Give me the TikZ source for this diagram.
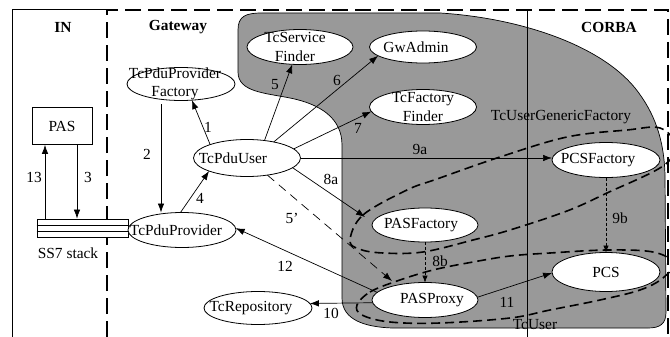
\documentclass[tikz,border=0pt]{standalone}
\usepackage{fontspec}
\setmainfont{Liberation Serif}
\usetikzlibrary{arrows.meta,shapes.geometric}
\definecolor{blobgray}{RGB}{153,153,153}
\begin{document}
\begin{tikzpicture}[x=1pt,y=-1pt,
  every node/.style={font=\fontsize{15.4}{18.5}\selectfont},
  comp/.style={ellipse, draw, fill=white, line width=0.8pt, inner sep=0pt, outer sep=0pt},
  lab/.style={align=center, inner sep=0pt},
  title/.style={font=\fontsize{15.4}{18.5}\selectfont\bfseries, inner sep=0pt},
  num/.style={inner sep=0pt},
  arr/.style={line width=0.7pt, -{Latex[length=9pt,width=6.5pt]}},
  darr/.style={arr, dash pattern=on 9pt off 6pt},
  dotarr/.style={line width=0.6pt, dash pattern=on 3pt off 2pt, -{Latex[length=7pt,width=5.5pt]}},
  frame/.style={line width=1.5pt, dash pattern=on 16pt off 7pt},
  group/.style={line width=1.6pt, dash pattern=on 9pt off 5pt}
]
\useasboundingbox (0,0) rectangle (670,337);

% shaded CORBA-side region
\fill[blobgray, draw=black, line width=0.7pt]
  (238,30) .. controls (238,16) and (246,13) .. (262,13) -- (440,13)
  .. controls (520,18) and (600,45) .. (635,88)
  .. controls (655,113) and (664,140) .. (665,175) -- (666,312)
  .. controls (666,324) and (660,328) .. (648,328) -- (392,328)
  .. controls (365,327) and (342,320) .. (342,298) -- (342,145)
  .. controls (342,118) and (320,104) .. (290,98)
  .. controls (265,93) and (238,92) .. (238,72) -- cycle;

% domain separators
\draw[line width=0.7pt] (527,10) -- (527,337);
\draw[line width=1pt] (12,337) -- (12,10) -- (107,10);
\draw[frame] (107,337) -- (107,10) -- (668,10) -- (668,337);

\node[title] (tIN) at (63,27) {IN};
\node[title] (tGW) at (178,27) {Gateway};
\node[title] (tCORBA) at (609,27) {CORBA};

% IN side
\node[draw, line width=0.8pt, minimum width=60pt, minimum height=37pt, inner sep=0pt] (pas) at (62,126) {PAS};
\node[draw, fill=white, line width=0.8pt, minimum width=91pt, minimum height=18pt, inner sep=0pt] (ss7) at (82.5,228) {};
\draw[line width=0.8pt] ([yshift=3pt]ss7.west) -- ([yshift=3pt]ss7.east);
\draw[line width=0.8pt] ([yshift=-3pt]ss7.west) -- ([yshift=-3pt]ss7.east);
\node[num] (lss7) at (68,253) {SS7 stack};

% components
\node[comp, minimum width=108pt, minimum height=33pt, label={[lab,xshift=-6pt]center:TcPduProvider\\Factory}] (tppf) at (181,84) {};
\node[comp, minimum width=107pt, minimum height=37pt, label={[lab,xshift=-14pt]center:TcPduUser}] (tpu) at (247,158) {};
\node[comp, minimum width=108pt, minimum height=35pt, label={[lab,xshift=-6pt]center:TcPduProvider}] (tpp) at (182,230) {};
\node[comp, minimum width=108pt, minimum height=33pt, label={[lab,xshift=-7pt]center:TcRepository}] (trep) at (258,308) {};
\node[comp, minimum width=106pt, minimum height=35pt, label={[lab,xshift=-5pt]center:TcService\\Finder}] (tsf) at (300,47) {};
\node[comp, minimum width=107pt, minimum height=32pt, label={[lab,xshift=-7pt]center:GwAdmin}] (gwa) at (423,47) {};
\node[comp, minimum width=107pt, minimum height=35pt, label={[lab]center:TcFactory\\Finder}] (tff) at (423,107) {};
\node[comp, minimum width=108pt, minimum height=35pt, label={[lab,xshift=-8pt]center:PCSFactory}] (pcsf) at (606,160) {};
\node[comp, minimum width=106pt, minimum height=34pt, label={[lab,xshift=-4pt]center:PASFactory}] (pasf) at (425,225) {};
\node[comp, minimum width=106pt, minimum height=35pt, label={[lab,xshift=7pt]center:PASProxy}] (pasp) at (425,300) {};
\node[comp, minimum width=108pt, minimum height=39pt, label={[lab]center:PCS}] (pcs) at (606,272) {};

% groupings
\draw[group] plot[smooth cycle, tension=0.6] coordinates {(350,240) (363,215) (407,190) (437,179) (500,157) (567,137) (627,130) (660,128) (675,145) (663,166) (607,193) (567,211) (510,230) (473,240) (423,252) (383,253) (359,249)};
\draw[group] plot[smooth cycle, tension=0.6] coordinates {(357,305) (370,292) (397,281) (433,270) (473,262) (510,256) (550,253) (607,250) (653,252) (673,263) (663,278) (640,290) (600,300) (550,310) (510,318) (440,323) (390,322) (362,315)};
\node[num] (lgf) at (561,117) {TcUserGenericFactory};
\node[num] (lu) at (535,325) {TcUser};
\coordinate (gfEdge) at (365,217);
\coordinate (uEdge) at (392,281);

% interactions
\coordinate (pasL) at ([xshift=-17pt]pas.south);
\coordinate (pasR) at ([xshift=15pt]pas.south);
\draw[arr] (pasL |- ss7.north) -- (pasL);
\draw[arr] (pasR) -- (pasR |- ss7.north);
\draw[arr] (tpu.160) -- (tppf.-56);
\draw[arr, shorten <=4pt] ([xshift=-20pt]tppf.south) -- ([xshift=-21pt]tpp.north);
\draw[arr] (tpp.95) -- (tpu.199);
\draw[arr] (tpu.45) -- (tsf.-114);
\draw[arr] (tpu.31) -- (gwa.191);
\draw[arr] (tpu.11) -- (tff.185);
\draw[arr] (tpu.east) -- (tpu.east -| pcsf.west);
\draw[arr] (tpu.-12) -- (gfEdge);
\draw[darr] (tpu.-40) -- (uEdge);
\draw[dotarr] (pasf.south) -- (pasp.north);
\draw[dotarr] (pcsf.south) -- (pcs.north);
\draw[arr] (pasp.3) -- (pcs.181);
\draw[arr] (pasp.183) -- (trep.5);
\draw[arr] (pasp.171) -- (tpp.2);

% step numbers
\node[num] (n13) at (34,177) {13};
\node[num] (n3) at (88,177) {3};
\node[num] (n1) at (208,127) {1};
\node[num] (n2) at (147,154) {2};
\node[num] (n4) at (200,198) {4};
\node[num] (n5) at (275,85) {5};
\node[num] (n6) at (337,80) {6};
\node[num] (n7) at (358,128) {7};
\node[num] (n9a) at (420,149) {9a};
\node[num] (n8a) at (331,179) {8a};
\node[num] (n5p) at (292,218) {5’};
\node[num] (n8b) at (440,261) {8b};
\node[num] (n9b) at (620,218) {9b};
\node[num] (n11) at (507,302) {11};
\node[num] (n10) at (331,313) {10};
\node[num] (n12) at (285,266) {12};
\end{tikzpicture}
\end{document}
